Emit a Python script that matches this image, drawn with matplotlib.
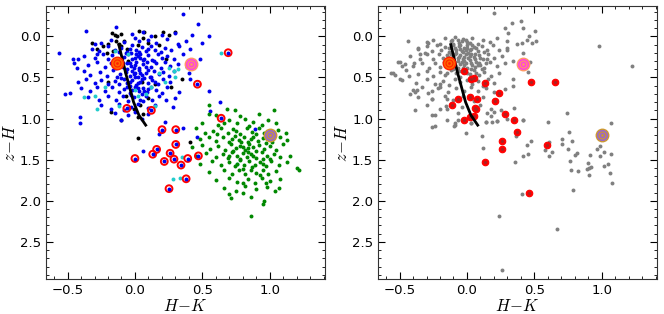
import matplotlib
matplotlib.use("Agg")
import matplotlib.pyplot as plt
from matplotlib.ticker import MultipleLocator

plt.rcParams['mathtext.fontset'] = 'cm'
plt.rcParams['font.family'] = 'DejaVu Sans'

# ---- data: (H-K, z-H) ----
line_hk = [-0.12, -0.09, -0.07, -0.04, -0.01, 0.03, 0.08]
line_zh = [0.10, 0.30, 0.44, 0.62, 0.80, 0.96, 1.08]

blue = [(0.355,-0.27),(0.47,-0.15),(-0.14,-0.11),(-0.36,-0.06),(0.55,0.0),(0.06,-0.05),(0.2,-0.02),(0.3,-0.04),(-0.02,-0.03),(0.12,-0.01),(0.42,-0.02),
        (-0.25,0.08),(-0.18,0.05),(-0.08,0.07),(0.03,0.06),(0.1,0.04),(0.16,0.08),(0.24,0.03),(0.32,0.09),(0.38,0.06),(-0.3,0.09),(0.5,0.08),(0.0,0.02),
        (-0.56,0.2),(-0.32,0.15),(-0.27,0.18),(-0.2,0.12),(-0.15,0.16),(-0.1,0.14),(-0.06,0.19),(-0.02,0.11),(0.01,0.17),(0.05,0.13),(0.08,0.18),(0.12,0.12),
        (0.15,0.16),(0.19,0.19),(0.22,0.14),(0.27,0.17),(0.33,0.12),(0.41,0.15),(-0.04,0.15),(0.03,0.19),(-0.12,0.19),(0.1,0.15),
        (-0.46,0.28),(-0.42,0.28),(-0.38,0.24),(-0.3,0.26),(-0.24,0.22),(-0.2,0.28),(-0.17,0.23),(-0.08,0.25),(-0.05,0.22),(-0.02,0.28),(0.02,0.24),(0.04,0.21),
        (0.07,0.27),(0.1,0.23),(0.13,0.29),(0.17,0.22),(0.2,0.26),(0.24,0.24),(0.29,0.28),(0.36,0.22),(0.48,0.28),(0.0,0.26),(-0.1,0.29),(0.06,0.29),(-0.28,0.21),
        (-0.45,0.32),(-0.43,0.38),(-0.35,0.35),(-0.28,0.31),(-0.22,0.37),(-0.18,0.33),(-0.14,0.39),(-0.06,0.32),(-0.03,0.36),(0.01,0.31),(0.03,0.38),(0.06,0.34),
        (0.09,0.31),(0.12,0.37),(0.16,0.33),(0.19,0.38),(0.22,0.31),(0.26,0.36),(0.32,0.34),(0.39,0.37),(-0.01,0.39),(0.08,0.37),(-0.09,0.37),(0.14,0.3),
        (-0.38,0.42),(-0.33,0.47),(-0.26,0.43),(-0.21,0.48),(-0.16,0.41),(-0.11,0.46),(-0.07,0.43),(-0.04,0.48),(0.0,0.44),(0.03,0.41),(0.05,0.47),(0.08,0.44),
        (0.11,0.49),(0.14,0.42),(0.18,0.46),(0.21,0.43),(0.25,0.48),(0.29,0.42),(0.4,0.44),(0.02,0.49),(-0.02,0.42),(0.1,0.41),(-0.13,0.49),
        (-0.42,0.55),(-0.36,0.52),(-0.3,0.57),(-0.25,0.53),(-0.2,0.58),(-0.15,0.54),(-0.1,0.51),(-0.06,0.57),(-0.02,0.53),(0.01,0.59),(0.04,0.55),(0.07,0.51),
        (0.1,0.57),(0.13,0.53),(0.17,0.58),(0.21,0.52),(0.26,0.56),(0.41,0.52),(0.05,0.52),(-0.04,0.6),(0.15,0.55),(-0.12,0.58),
        (-0.52,0.7),(-0.48,0.69),(-0.4,0.63),(-0.33,0.67),(-0.28,0.61),(-0.22,0.66),(-0.17,0.62),(-0.12,0.68),(-0.08,0.64),(-0.04,0.69),(0.0,0.62),(0.03,0.67),
        (0.06,0.63),(0.09,0.68),(0.12,0.61),(0.16,0.65),(0.2,0.69),(0.24,0.62),(0.55,0.67),(0.33,0.68),(0.07,0.66),(-0.02,0.65),
        (-0.35,0.74),(-0.27,0.78),(-0.2,0.72),(-0.14,0.77),(-0.09,0.73),(-0.05,0.79),(-0.01,0.74),(0.04,0.77),(0.08,0.72),(0.13,0.78),(0.18,0.73),(0.23,0.77),
        (0.3,0.75),(0.06,0.79),(-0.25,0.84),(-0.18,0.88),(-0.12,0.82),(-0.03,0.86),(0.02,0.82),(0.1,0.87),(0.15,0.83),(0.28,0.86),(-0.08,0.89),
        (-0.41,0.98),(-0.41,1.06),(-0.15,0.93),(-0.05,0.96),(0.0,0.92),(0.05,1.0),(0.1,0.94),(-0.1,1.02),
        (0.223,1.04),(0.459,1.225),(0.062,1.40),(0.355,1.115),(0.181,1.19),(0.556,0.905),(0.888,1.13),(0.63,0.8),
        (-0.07,0.2),(-0.03,0.2),(0.01,0.22),(0.04,0.26),(-0.09,0.32),(-0.04,0.33),(0.0,0.35),(-0.06,0.4),(-0.01,0.46),(0.04,0.44),
        (-0.08,0.52),(-0.04,0.55),(0.0,0.5),(0.02,0.57),(-0.06,0.61),(0.02,0.63),(0.05,0.7),(-0.03,0.71),(0.1,0.64),(0.12,0.5)]

black = [(-0.17,-0.04),(-0.15,-0.02),(-0.13,0.0),(-0.1,-0.03),(0.03,-0.06),(0.07,-0.05),(0.21,-0.05),(0.25,-0.02),(0.3,-0.05),(0.06,0.02),(0.15,0.0),
         (-0.24,0.12),(-0.32,0.08),(-0.28,0.15),(-0.21,0.2),(-0.16,0.18),(-0.12,0.09),(-0.1,0.12),(-0.08,0.06),(-0.14,0.06),(-0.2,0.09),(-0.06,0.15),
         (0.02,0.1),(0.1,0.08),(0.18,0.1),(0.23,0.28),(-0.05,0.3),(0.05,0.55),(0.27,0.62),(0.15,0.58),(-0.07,0.72),(0.04,0.84),(0.06,0.95),(-0.1,1.02),
         (-0.01,0.88),(0.025,1.24),(0.41,1.28),(-0.2,0.55),(0.1,0.75),(0.35,0.52),(0.02,0.98),(-0.18,0.92)]

cyan = [(-0.15,0.18),(-0.05,0.22),(0.18,0.45),(0.25,0.38),(0.29,0.42),(0.3,0.5),(0.22,0.55),(0.12,0.62),(0.08,0.7),(0.0,0.65),(-0.22,0.62),
        (-0.3,0.72),(-0.38,0.74),(-0.28,0.88),(-0.12,0.85),(0.02,0.72),(0.15,0.85),(0.32,0.4),(0.64,0.2),(0.348,1.467),(0.281,1.735),(0.335,1.727),(0.757,1.555)]

green = [(0.55,0.84),(0.55,0.94),(0.68,0.88),(0.74,0.9),(1.03,0.89),(0.92,0.95),(0.78,0.97),(0.6,0.96),
         (0.5,1.05),(0.62,1.08),(0.7,1.02),(0.76,1.06),(0.82,1.0),(0.88,1.04),(0.94,1.08),(0.99,1.02),(1.05,1.06),(0.66,1.05),(0.85,1.09),
         (0.45,1.12),(0.52,1.18),(0.58,1.15),(0.64,1.11),(0.69,1.17),(0.73,1.13),(0.78,1.19),(0.83,1.12),(0.87,1.16),(0.92,1.11),(0.96,1.18),(1.06,1.14),
         (1.12,1.18),(0.75,1.15),(0.9,1.19),(0.61,1.19),
         (0.48,1.25),(0.55,1.22),(0.6,1.27),(0.65,1.23),(0.7,1.28),(0.74,1.21),(0.77,1.26),(0.81,1.23),(0.84,1.29),(0.88,1.22),(0.91,1.27),(0.95,1.24),
         (1.02,1.28),(1.08,1.22),(1.13,1.26),(0.72,1.25),(0.86,1.25),(0.79,1.29),
         (0.42,1.35),(0.5,1.32),(0.56,1.37),(0.62,1.33),(0.67,1.38),(0.71,1.31),(0.75,1.36),(0.78,1.33),(0.82,1.38),(0.85,1.31),(0.88,1.35),(0.92,1.32),
         (0.96,1.37),(1.0,1.33),(1.05,1.38),(1.1,1.31),(0.73,1.39),(0.8,1.35),(0.9,1.39),(0.97,1.3),(0.84,1.36),
         (0.45,1.45),(0.53,1.42),(0.6,1.47),(0.65,1.43),(0.69,1.48),(0.72,1.41),(0.76,1.46),(0.8,1.42),(0.83,1.47),(0.86,1.43),(0.9,1.48),(0.94,1.41),
         (0.98,1.46),(1.03,1.43),(1.08,1.47),(1.15,1.45),(0.78,1.49),(0.88,1.45),(0.95,1.49),(0.7,1.45),(0.84,1.41),(1.0,1.49),
         (0.48,1.55),(0.57,1.52),(0.64,1.57),(0.7,1.53),(0.74,1.58),(0.78,1.51),(0.81,1.56),(0.85,1.52),(0.89,1.57),(0.93,1.53),(0.97,1.58),(1.01,1.52),
         (1.07,1.56),(1.13,1.53),(0.76,1.55),(0.87,1.59),(0.95,1.55),(1.2,1.6),
         (0.55,1.65),(0.66,1.62),(0.72,1.67),(0.77,1.63),(0.82,1.68),(0.86,1.62),(0.9,1.66),(0.95,1.63),(0.99,1.68),(1.05,1.64),(1.22,1.63),(0.8,1.61),(0.93,1.69),
         (0.6,1.75),(0.7,1.72),(0.76,1.77),(0.84,1.74),(0.89,1.79),(0.94,1.72),(1.0,1.76),(1.08,1.73),(0.8,1.79),(0.97,1.79),
         (0.66,1.84),(0.75,1.88),(0.82,1.82),(0.9,1.86),(0.98,1.83),(1.04,1.88),(0.7,1.92),(0.86,1.95),(0.96,2.0),(0.95,2.04),(0.71,1.97),(0.86,2.19),
         (0.8,1.9),(1.07,1.85)]

red_left = [(0.692,0.199),(0.464,0.582),(-0.06,0.876),(0.122,0.90),(0.64,0.996),(0.201,1.135),(0.303,1.135),(0.303,1.315),(0.161,1.375),
            (0.132,1.434),(0.261,1.422),(0.0,1.486),(0.218,1.522),(0.29,1.494),(0.392,1.486),(0.471,1.454),(0.342,1.566),(0.38,1.733),(0.253,1.853)]

grey = [(-0.3,0.07),(-0.25,0.04),(-0.2,0.09),(-0.16,0.02),(-0.12,0.06),(-0.09,0.01),(-0.06,0.08),(-0.03,0.03),(0.0,0.07),(0.04,0.02),(0.08,0.09),
        (0.12,0.04),(0.17,0.07),(0.22,0.02),(0.3,0.06),
        (-0.36,0.15),(-0.3,0.12),(-0.26,0.18),(-0.22,0.11),(-0.19,0.16),(-0.16,0.13),(-0.13,0.19),(-0.1,0.11),(-0.08,0.16),(-0.06,0.12),(-0.04,0.18),
        (-0.02,0.14),(0.0,0.11),(0.02,0.17),(0.05,0.13),(0.08,0.18),(0.11,0.12),(0.15,0.16),(0.19,0.11),(0.24,0.17),(0.3,0.14),
        (-0.42,0.24),(-0.35,0.28),(-0.3,0.22),(-0.25,0.27),(-0.21,0.21),(-0.18,0.26),(-0.15,0.23),(-0.12,0.29),(-0.09,0.21),(-0.07,0.26),(-0.05,0.23),
        (-0.03,0.28),(-0.01,0.22),(0.01,0.26),(0.03,0.21),(0.06,0.27),(0.09,0.23),(0.12,0.28),(0.16,0.22),(0.2,0.26),(0.26,0.24),
        (-0.5,0.31),(-0.4,0.36),(-0.33,0.32),(-0.28,0.38),(-0.24,0.33),(-0.2,0.37),(-0.17,0.31),(-0.14,0.36),(-0.1,0.33),(-0.07,0.38),(-0.04,0.31),
        (-0.02,0.35),(0.0,0.39),(0.03,0.32),(0.06,0.37),(0.09,0.33),(0.13,0.38),(0.17,0.31),(0.22,0.36),(0.28,0.33),
        (-0.55,0.44),(-0.45,0.41),(-0.36,0.46),(-0.3,0.42),(-0.25,0.48),(-0.2,0.43),(-0.16,0.47),(-0.12,0.41),(-0.08,0.45),(-0.05,0.49),(-0.02,0.43),
        (0.02,0.46),(0.05,0.41),(0.09,0.47),(0.13,0.43),(0.18,0.48),(0.24,0.44),
        (-0.48,0.53),(-0.38,0.57),(-0.3,0.52),(-0.24,0.58),(-0.18,0.54),(-0.13,0.59),(-0.09,0.52),(-0.05,0.56),(0.0,0.53),(0.04,0.58),(0.08,0.54),
        (0.12,0.6),(0.16,0.52),(0.2,0.57),
        (-0.4,0.65),(-0.33,0.61),(-0.26,0.67),(-0.2,0.62),(-0.14,0.68),(-0.08,0.63),(-0.02,0.66),(0.03,0.61),(0.08,0.67),(0.14,0.63),(0.2,0.68),
        (-0.36,0.74),(-0.26,0.76),(-0.16,0.72),(-0.1,0.78),(-0.03,0.73),(0.05,0.79),(0.12,0.74),(0.2,0.77),
        (-0.3,0.84),(-0.2,0.88),(-0.12,0.82),(-0.04,0.86),(0.1,0.83),(0.18,0.88),
        (-0.26,0.96),(-0.24,1.09),(-0.15,1.02),(-0.09,1.05),(-0.07,0.93),(0.03,1.06),(0.14,1.04),(0.18,0.97),(0.22,1.03),(0.3,1.0),
        (-0.11,0.05),(-0.07,0.04),(-0.04,0.06),(-0.01,0.05),(0.02,0.08),(-0.13,0.14),(-0.09,0.14),(-0.05,0.15),(-0.01,0.16),(0.03,0.15),(0.07,0.14),
        (-0.14,0.25),(-0.1,0.24),(-0.06,0.25),(-0.02,0.25),(0.02,0.24),(0.05,0.25),(0.1,0.26),(-0.13,0.34),(-0.09,0.35),(-0.05,0.34),(-0.01,0.33),
        (0.04,0.35),(0.08,0.35),(-0.06,0.42),(0.0,0.44),(0.07,0.44),(0.11,0.4),(-0.15,0.44),(0.14,0.33),
        (-0.1,0.09),(-0.05,0.1),(0.0,0.14),(0.04,0.1),(-0.12,0.21),(-0.08,0.2),(-0.03,0.19),(0.01,0.2),(0.06,0.21),(-0.11,0.29),(-0.07,0.3),
        (-0.02,0.3),(0.02,0.29),(0.07,0.31),(-0.1,0.4),(-0.03,0.39),(0.03,0.4),(0.1,0.35),(0.15,0.28),(0.13,0.19),
        (-0.44,0.06),(-0.56,0.44),(-0.535,0.47),(-0.51,0.31),(-0.5,0.52),(-0.48,0.36),(-0.456,0.34),(-0.43,0.48),(-0.424,0.7),(-0.387,0.68),
        (-0.367,0.65),(-0.387,0.9),(-0.288,0.69),(-0.262,0.76),(-0.238,0.96),(-0.262,1.1),(-0.362,0.14),(-0.349,0.22),(-0.392,0.32),(-0.312,0.2),
        (-0.288,0.08),(-0.151,0.76),(-0.156,0.845),(-0.201,0.58),(-0.218,0.63),(-0.089,1.084),(-0.146,0.889),(-0.067,1.02),(-0.097,1.096),
        (-0.007,1.176),(0.027,1.056),(0.114,1.208),(0.141,1.04),(0.183,1.036),(0.223,1.032),(0.419,1.016),(0.605,1.044),(1.068,1.06),
        (0.741,0.928),(0.121,1.363),(0.364,1.208),(0.444,1.316),(0.476,1.271),(0.456,1.427),(0.414,1.455),(0.359,1.523),(0.61,1.283),(0.58,1.387),
        (0.63,1.403),(0.61,1.455),(0.761,1.164),(0.709,1.244),(0.709,1.304),(0.753,1.376),(0.783,1.275),(0.816,1.415),(0.803,1.447),(0.768,1.515),
        (0.828,1.642),(0.771,1.627),(0.79,1.873),(0.914,1.443),(0.9,1.539),(0.922,1.587),(0.907,1.607),(0.89,1.618),(0.909,1.682),(0.964,1.367),
        (0.984,1.331),(0.989,1.455),(1.014,1.403),(1.019,1.579),(1.046,1.547),(1.063,1.666),(1.068,1.435),(1.08,1.782),(0.411,1.914),(0.236,2.181),
        (0.671,2.344),(0.258,2.838),(0.98,0.12),(1.228,0.36),
        (0.2,-0.29),(0.332,-0.16),(0.283,-0.1),(0.419,-0.1),(0.307,-0.04),(0.506,-0.06),(0.461,0.0),(0.444,0.048),(0.406,0.08),(0.37,0.091),
        (0.295,0.167),(0.419,0.199),(0.481,0.079),(0.344,0.299),(0.468,0.311),(0.451,0.438),(0.344,0.518),(0.344,0.598),(0.283,0.638),(0.352,0.877),
        (0.419,1.017),(0.25,0.9),(0.2,0.92),(0.15,0.93),(0.4,-0.19),(0.51,0.06)]

red_right = [(-0.022,0.418),(0.03,0.518),(0.055,0.51),(0.132,0.57),(0.479,0.558),(0.65,0.558),(0.241,0.689),(-0.069,0.757),(0.02,0.737),
             (0.074,0.757),(0.211,0.789),(-0.109,0.837),(0.057,0.869),(0.069,0.888),(0.28,0.948),(0.02,0.976),(0.05,0.968),(-0.02,1.016),
             (0.347,1.016),(0.372,1.167),(0.261,1.267),(0.591,1.327),(0.261,1.375),(0.132,1.534),(0.459,1.904)]

# special objects: position, outer colour, inner colour
special_hk = [-0.13, 0.417, 1.0]
special_zh = [0.33, 0.34, 1.2]
special_outer = ['#ff6600', '#ff44dd', '#9966cc']
special_inner = ['#ff2200', '#ff9966', '#cc9933']


def xy(pts):
    return [p[0] for p in pts], [p[1] for p in pts]


def style_axes(ax):
    ax.set_xlim(-0.66, 1.41)
    ax.set_ylim(2.95, -0.37)
    ax.xaxis.set_major_locator(MultipleLocator(0.5))
    ax.xaxis.set_minor_locator(MultipleLocator(0.1))
    ax.yaxis.set_major_locator(MultipleLocator(0.5))
    ax.yaxis.set_minor_locator(MultipleLocator(0.1))
    ax.tick_params(which='both', direction='in', top=True, right=True, labelsize=9.5)
    ax.tick_params(which='major', length=5)
    ax.tick_params(which='minor', length=2.5)
    ax.set_xlabel(r'$H\!-\!K$', fontsize=12, labelpad=0)
    ax.set_ylabel(r'$z\!-\!H$', fontsize=12, labelpad=1)
    for s in ax.spines.values():
        s.set_color('#333333')


def draw_special(ax):
    for x, y, co, ci in zip(special_hk, special_zh, special_outer, special_inner):
        ax.plot(x, y, 'o', ms=9, mfc=co, mec=ci, mew=1.0, zorder=6)
        ax.plot(x, y, 'o', ms=5, mfc='none', mec=ci, mew=0.8, zorder=7)
        ax.plot(x, y, 'o', ms=2, mfc=ci, mec='none', zorder=8)


fig = plt.figure(figsize=(6.64, 3.14), dpi=100)
ax1 = fig.add_axes([0.0693, 0.112, 0.420, 0.869])
ax2 = fig.add_axes([0.5693, 0.112, 0.420, 0.869])

pt = 8

# left panel
x, y = xy(black)
ax1.scatter(x, y, s=pt, c='black', lw=0, zorder=2)
x, y = xy(blue)
ax1.scatter(x, y, s=pt, c='#0000ee', lw=0, zorder=2)
x, y = xy(cyan)
ax1.scatter(x, y, s=pt, c='#22cccc', lw=0, zorder=2)
x, y = xy(green)
ax1.scatter(x, y, s=pt, c='#008800', lw=0, zorder=2)
x, y = xy(red_left)
ax1.scatter(x, y, s=24, facecolors='none', edgecolors='red', lw=1.4, zorder=4)
ax1.scatter(x, y, s=pt, c='#0000ee', lw=0, zorder=5)
ax1.plot(line_hk, line_zh, color='black', lw=2, zorder=5)
draw_special(ax1)
style_axes(ax1)

# right panel
x, y = xy(grey)
ax2.scatter(x, y, s=pt, c='#808080', lw=0, zorder=2)
x, y = xy(red_right)
ax2.scatter(x, y, s=22, c='red', edgecolors='red', lw=0.8, zorder=4)
ax2.scatter(x, y, s=5, c='#aa2222', lw=0, zorder=5)
ax2.plot(line_hk, line_zh, color='black', lw=2, zorder=5)
draw_special(ax2)
style_axes(ax2)

fig.savefig('out.png', dpi=100)
